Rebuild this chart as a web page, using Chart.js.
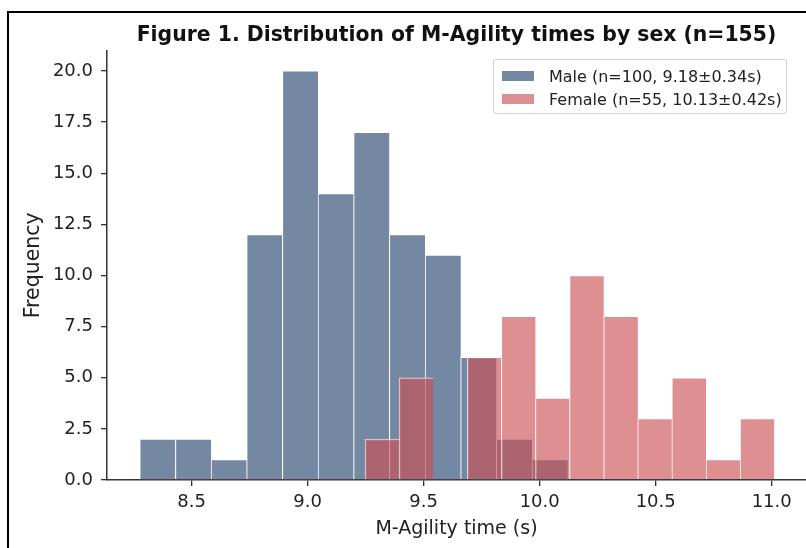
<!DOCTYPE html>
<html>
<head>
<meta charset="utf-8">
<script src="https://cdn.jsdelivr.net/npm/chart.js@4/dist/chart.umd.min.js"></script>
<style>
  html, body { margin:0; padding:0; background:#fff; }
  body { width:806px; height:548px; position:relative; overflow:hidden; font-family:"DejaVu Sans", sans-serif; }
  #frame { position:absolute; left:7px; top:11px; width:820px; height:560px; border:2px solid #000; pointer-events:none; }
  #legend { position:absolute; left:493px; top:59px; width:292px; height:53px; border:1px solid #d4d4d4; border-radius:3px; background:rgba(255,255,255,0.85); }
  .row { position:absolute; left:8px; height:20px; display:flex; align-items:center; font-size:16px; color:#222; white-space:nowrap; }
  .sw { width:32px; height:10px; margin-right:15px; }
</style>
</head>
<body>
<canvas id="c" width="806" height="548"></canvas>
<div id="frame"></div>
<div id="legend"></div>
<script>
const maleEdges   = [8.276, 8.430, 8.584, 8.737, 8.891, 9.045, 9.198, 9.352, 9.506, 9.660, 9.813, 9.967, 10.121];
const maleCounts  = [2, 2, 1, 12, 20, 14, 17, 12, 11, 6, 2, 1];
const femaleEdges = [9.247, 9.394, 9.541, 9.688, 9.835, 9.982, 10.129, 10.276, 10.423, 10.570, 10.717, 10.864, 11.011];
const femaleCounts = [2, 5, 0, 6, 8, 4, 10, 8, 3, 5, 1, 3];
const xTicks = [8.5, 9.0, 9.5, 10.0, 10.5, 11.0];
const yTicks = [0, 2.5, 5, 7.5, 10, 12.5, 15, 17.5, 20];
const seriesLabels = ['Male (n=100, 9.18±0.34s)', 'Female (n=55, 10.13±0.42s)'];

const MALE_COLOR = 'rgb(116,135,163)';
const FEMALE_COLOR = 'rgba(204,80,84,0.64)';

function toBins(edges, counts) {
  return counts.map((c, i) => ({ x: (edges[i] + edges[i + 1]) / 2, y: c }));
}

const xMin = 8.135, xMax = 11.148;
const axisCol = '#333';
const tickFont = { family: 'DejaVu Sans', size: 18 };

function xScale(show) {
  return {
    type: 'linear', display: show, offset: false, min: xMin, max: xMax,
    afterBuildTicks: s => { s.ticks = xTicks.map(v => ({ value: v })); },
    afterFit: s => { s.height = show ? 68 : 0; },
    grid: { offset: false, drawOnChartArea: false, drawTicks: true, tickLength: 6, color: axisCol, lineWidth: 1.3 },
    border: { display: true, color: axisCol, width: 1.5 },
    ticks: { font: tickFont, color: '#222', padding: 6, maxRotation: 0, callback: v => v.toFixed(1) },
    title: { display: true, text: 'M-Agility time (s)', font: { family: 'DejaVu Sans', size: 19 }, color: '#222', padding: { top: 0, bottom: 8 } }
  };
}

new Chart(document.getElementById('c'), {
  type: 'bar',
  data: {
    datasets: [
      { label: seriesLabels[0], data: toBins(maleEdges, maleCounts), xAxisID: 'x', order: 1,
        backgroundColor: MALE_COLOR, borderColor: '#fff', borderWidth: { left: 1, right: 0, top: 1, bottom: 0 },
        barPercentage: 1, categoryPercentage: 1, grouped: false },
      { label: seriesLabels[1], data: toBins(femaleEdges, femaleCounts), xAxisID: 'x2', order: 0,
        backgroundColor: FEMALE_COLOR, borderColor: 'rgba(255,255,255,0.7)', borderWidth: { left: 1, right: 0, top: 1, bottom: 0 },
        barPercentage: 1, categoryPercentage: 1, grouped: false }
    ]
  },
  options: {
    responsive: false,
    animation: false,
    layout: { padding: { left: 0, right: 0, top: 0, bottom: 0 } },
    plugins: {
      legend: { display: false },
      tooltip: { enabled: false },
      title: { display: true, fullSize: false, text: 'Figure 1. Distribution of M-Agility times by sex (n=155)',
        font: { family: 'DejaVu Sans', size: 20.4, weight: 'bold' }, color: '#111', padding: { top: 23, bottom: 3 } }
    },
    scales: {
      x: xScale(true),
      x2: xScale(false),
      y: {
        min: 0, max: 21,
        afterBuildTicks: s => { s.ticks = yTicks.map(v => ({ value: v })); },
        afterFit: s => { s.width = 107; },
        grid: { drawOnChartArea: false, drawTicks: true, tickLength: 6, color: axisCol, lineWidth: 1.3 },
        border: { display: true, color: axisCol, width: 1.5 },
        ticks: { font: tickFont, color: '#222', padding: 8, callback: v => v.toFixed(1) },
        title: { display: true, text: 'Frequency', font: { family: 'DejaVu Sans', size: 20.5 }, color: '#222', padding: { top: 21, bottom: 0 } }
      }
    }
  }
});

const legend = document.getElementById('legend');
[MALE_COLOR, FEMALE_COLOR].forEach((col, i) => {
  const row = document.createElement('div');
  row.className = 'row';
  row.style.top = (6 + i * 23) + 'px';
  row.innerHTML = `<span class="sw" style="background:${col}"></span><span>${seriesLabels[i]}</span>`;
  legend.appendChild(row);
});
</script>
</body>
</html>
